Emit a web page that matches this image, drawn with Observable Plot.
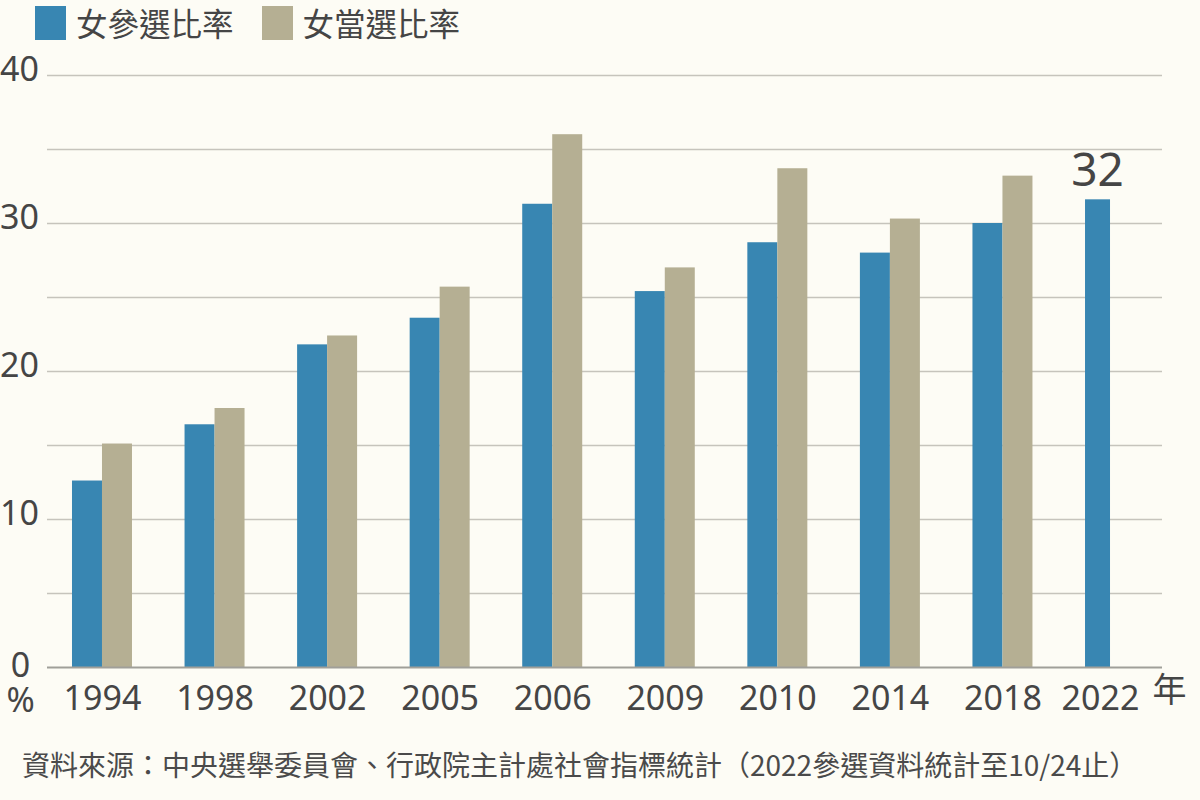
<!DOCTYPE html>
<html>
<head>
<meta charset="utf-8">
<script src="https://cdn.jsdelivr.net/npm/d3@7"></script>
<script src="https://cdn.jsdelivr.net/npm/@observablehq/plot@0.6"></script>
<style>
  html, body { margin: 0; padding: 0; background: #fdfcf5; }
  body { width: 1200px; height: 800px; overflow: hidden; font-family: "Noto Sans", "Noto Sans CJK TC", sans-serif; color: #454545; }
  #legend { display: flex; align-items: center; height: 42px; padding-top: 2px; padding-left: 35px; font-size: 31.5px; line-height: 1.2; }
  #legend .item { display: flex; align-items: center; margin-right: 28px; }
  #legend .sw { width: 31px; height: 34px; margin-right: 10px; }
  #legend span.t { font-family: "Noto Sans CJK TC", "Noto Sans", sans-serif; }
  #chart svg { display: block; }
  #caption { font-family: "Noto Sans CJK TC", "Noto Sans", sans-serif; font-size: 28px; padding-left: 22px; margin-top: 19px; color: #4a4a4a; white-space: nowrap; }
</style>
</head>
<body>
<div id="legend"></div>
<div id="chart"></div>
<div id="caption"></div>
<script>
const years = ["1994","1998","2002","2005","2006","2009","2010","2014","2018","2022"];
const candidateShare = [12.6, 16.4, 21.8, 23.6, 31.3, 25.4, 28.7, 28.0, 30.0, 31.6];
const electedShare = [15.1, 17.5, 22.4, 25.7, 36.0, 27.0, 33.7, 30.3, 33.2, null];
const seriesNames = ["女參選比率", "女當選比率"];
const seriesColors = ["#3886b2", "#b5af93"];
const yTickLabels = [10, 20, 30, 40];
const yZeroLabel = [0];
const yUnit = "%";
const xUnit = "年";
const gridValues = [5, 10, 15, 20, 25, 30, 35, 40];
const captionText = "資料來源：中央選舉委員會、行政院主計處社會指標統計（2022參選資料統計至10/24止）";

// legend
const legend = document.getElementById("legend");
seriesNames.forEach((n, i) => {
  const it = document.createElement("div");
  it.className = "item";
  it.innerHTML = `<div class="sw" style="background:${seriesColors[i]}"></div><span class="t">${n}</span>`;
  legend.appendChild(it);
});
document.getElementById("caption").textContent = captionText;

const W = 1200, H = 681;
const mL = 47, mR = 38, mT = 31, mB = 58;
const pIn = 0.467, pOut = 0.222;
const xRange = [mL, 1170];
const step = (xRange[1] - xRange[0]) / (years.length - pIn + 2 * pOut);
const half = step * (1 - pIn) / 2;

const cand = years.map((y, i) => ({year: y, value: candidateShare[i]}));
const elec = years.map((y, i) => ({year: y, value: electedShare[i]})).filter(d => d.value != null);
const lastCand = [cand[cand.length - 1]];
const pairedYears = years.filter((y, i) => electedShare[i] != null);
const singleYears = years.filter((y, i) => electedShare[i] == null);

const font = "Noto Sans, Noto Sans CJK TC, sans-serif";
const textColor = "#454545";

const plot = Plot.plot({
  width: W, height: H,
  marginLeft: mL, marginRight: mR, marginTop: mT, marginBottom: mB,
  style: {background: "transparent", fontFamily: font, color: textColor, overflow: "visible"},
  x: {domain: years, range: xRange, paddingInner: pIn, paddingOuter: pOut, round: false, label: null},
  y: {domain: [0, 40], label: null},
  marks: [
    Plot.gridY(gridValues, {stroke: "#c6c4bc", strokeOpacity: 1, strokeWidth: 1.3}),
    Plot.barY(cand.filter(d => pairedYears.includes(d.year)), {x: "year", y: "value", fill: seriesColors[0], insetLeft: 0, insetRight: half}),
    Plot.barY(cand.filter(d => singleYears.includes(d.year)), {x: "year", y: "value", fill: seriesColors[0], insetLeft: 0, insetRight: half + 5}),
    Plot.barY(elec, {x: "year", y: "value", fill: seriesColors[1], insetLeft: half, insetRight: 0}),
    Plot.ruleY([0], {stroke: "#a09f99", strokeWidth: 2}),
    Plot.axisY(yTickLabels, {tickSize: 0, tickPadding: 0, textAnchor: "middle", dx: -28, dy: -5, fontSize: 34, fill: textColor, label: null}),
    Plot.text(yZeroLabel, {y: d => d, frameAnchor: "left", text: d => `${d}\n${yUnit}`, lineAnchor: "top", lineHeight: 1.03, textAnchor: "middle", dx: -27, dy: -15, fontSize: 34, fill: textColor}),
    Plot.axisX(pairedYears, {tickSize: 0, tickPadding: 18, fontSize: 34, fill: textColor, label: null}),
    Plot.axisX(singleYears, {tickSize: 0, tickPadding: 18, fontSize: 34, fill: textColor, label: null, dx: -15}),
    Plot.text(lastCand, {x: "year", y: "value", text: d => d3.format(".0f")(d.value), dx: -half / 2 - 3, dy: -29, fontSize: 46, fill: textColor}),
    Plot.text([xUnit], {frameAnchor: "bottom-right", dx: 7, dy: 34, fontSize: 34, fill: textColor, textAnchor: "middle", fontFamily: "Noto Sans CJK TC, sans-serif"})
  ]
});
document.getElementById("chart").appendChild(plot);
</script>
</body>
</html>
